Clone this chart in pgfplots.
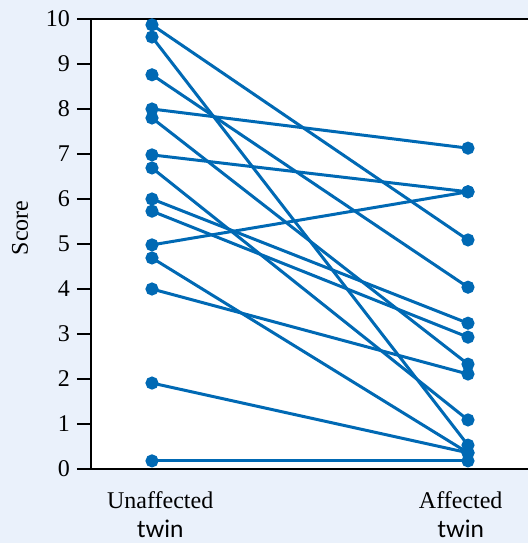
\documentclass[border=0pt]{standalone}
\usepackage{fontspec}
\setmainfont{Liberation Serif}
\newfontfamily\twinfont{Lato}
\usepackage{pgfplots}
\pgfplotsset{compat=1.18}
\definecolor{bgblue}{RGB}{234,241,251}
\definecolor{lineblue}{RGB}{0,105,180}
\tikzset{twinline/.style={color=lineblue, solid, line width=1.5pt, mark=*, mark size=2.5pt, mark options={solid, fill=lineblue, draw=lineblue}}}
\begin{document}
\begin{tikzpicture}[x=1pt,y=1pt]
\useasboundingbox (0,0) rectangle (264,271.5);
\fill[bgblue] (0,0) rectangle (264,271.5);
\clip (0,0) rectangle (264,271.5);
\node[rotate=90,font=\fontsize{12}{14}\selectfont] at (10,157.5) {Score};
\begin{axis}[
  at={(45.5pt,37pt)}, anchor=south west,
  scale only axis, width=235.9pt, height=225pt,
  xmin=-0.193, xmax=1.3, ymin=0, ymax=10,
  axis background/.style={fill=white},
  axis line style={line width=1.4pt, black},
  ytick={0,1,...,10}, ytick pos=left,
  tick align=outside, major tick length=7pt,
  ytick style={line width=0.7pt, black},
  /pgf/number format/assume math mode=true,
  xtick={0.026,0.977}, xticklabels={{Unaffected\\{\twinfont twin}},{Affected\\{\twinfont twin}}},
  xtick style={draw=none},
  xticklabel style={align=center, font=\fontsize{12}{14.5}\selectfont, yshift=-1pt},
  yticklabel style={font=\fontsize{12}{14}\selectfont},
  clip=false,
]
\addplot[twinline] coordinates {(0,9.87) (1,5.09)};
\addplot[twinline] coordinates {(0,9.60) (1,0.53)};
\addplot[twinline] coordinates {(0,8.76) (1,4.04)};
\addplot[twinline] coordinates {(0,8.00) (1,7.13)};
\addplot[twinline] coordinates {(0,7.80) (1,2.33)};
\addplot[twinline] coordinates {(0,6.98) (1,6.16)};
\addplot[twinline] coordinates {(0,6.69) (1,1.09)};
\addplot[twinline] coordinates {(0,6.00) (1,3.24)};
\addplot[twinline] coordinates {(0,5.73) (1,2.93)};
\addplot[twinline] coordinates {(0,4.98) (1,6.16)};
\addplot[twinline] coordinates {(0,4.69) (1,0.36)};
\addplot[twinline] coordinates {(0,4.00) (1,2.11)};
\addplot[twinline] coordinates {(0,1.91) (1,0.36)};
\addplot[twinline] coordinates {(0,0.18) (1,0.18)};
\end{axis}
\end{tikzpicture}
\end{document}
